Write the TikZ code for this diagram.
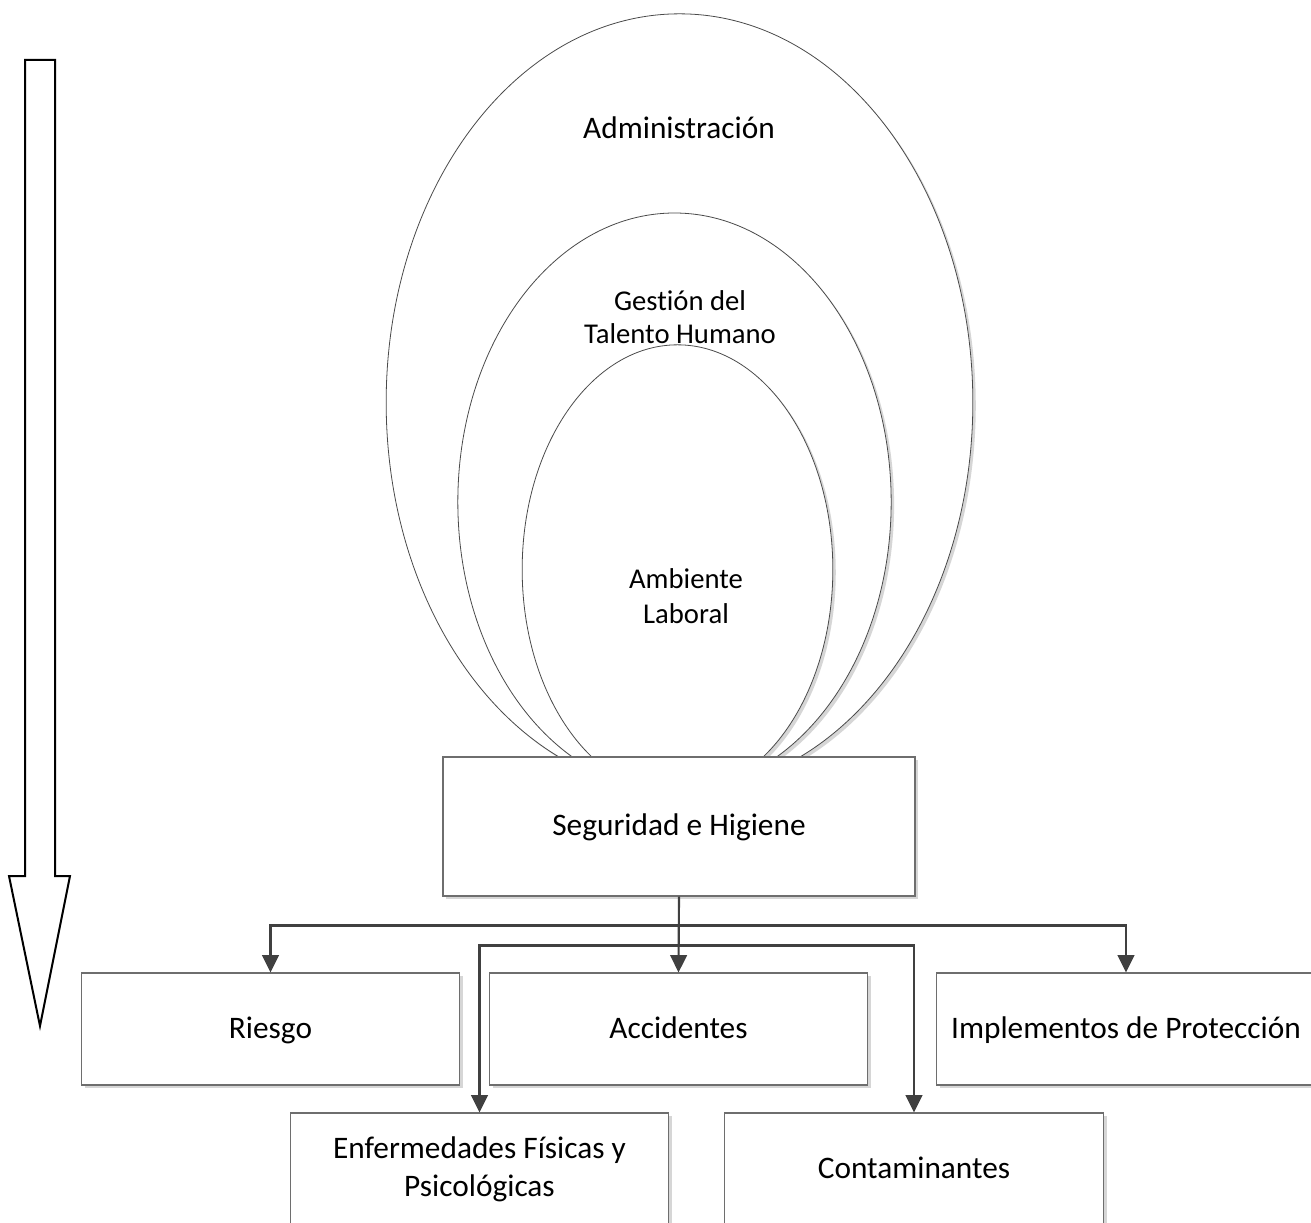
\documentclass[tikz,border=0pt]{standalone}
\usepackage{fontspec}
\setmainfont{Carlito}[Ligatures=NoCommon]
\usetikzlibrary{shapes.geometric,shadows,arrows.meta}
\definecolor{ovalline}{HTML}{4A4A4A}
\definecolor{boxline}{HTML}{6E6E6E}
\definecolor{connline}{HTML}{404040}

\begin{document}
\begin{tikzpicture}[x=0.75pt,y=-0.75pt,
    oval/.style={ellipse,draw=ovalline,line width=0.6pt,fill=white,inner sep=0pt,
      drop shadow={shadow xshift=2.2pt,shadow yshift=-2.2pt,fill=black!16,opacity=1}},
    box/.style={rectangle,draw=boxline,line width=0.8pt,fill=white,inner sep=0pt,align=center,
      minimum width=284pt,minimum height=84pt,font=\fontsize{23.5}{28.5}\selectfont,
      drop shadow={shadow xshift=2.5pt,shadow yshift=-2.5pt,fill=black!16,opacity=1}},
    oneline/.style={text height=18pt,text depth=4pt},
    conn/.style={draw=connline,line width=1.6pt,-{Triangle[length=13pt,width=12.5pt]}}]
    \useasboundingbox (0,0) rectangle (1311,1223);

    \draw[line width=1.5pt,fill=white] (25,60) -- (55,60) -- (55,876) -- (70,876)
      -- (40,1026) -- (9,876) -- (25,876) -- cycle;

    \node[oval,minimum width=440pt,minimum height=583pt] (admin) at (679.5,402.5) {};
    \node[oval,minimum width=325pt,minimum height=433.5pt] (gestion) at (674.5,502) {};
    \node[oval,minimum width=233pt,minimum height=337pt] (ambiente) at (677.5,569.5) {};

    \node[font=\fontsize{23.5}{28.5}\selectfont] (admintxt) at (679,128) {Administración};
    \node[align=center,font=\fontsize{21.5}{25}\selectfont] (gestiontxt) at (680,317) {Gestión del\\Talento Humano};
    \node[align=center,font=\fontsize{21.5}{26}\selectfont] (ambientetxt) at (686,596) {Ambiente\\Laboral};

    \node[box,oneline,minimum width=354pt,minimum height=104.25pt] (seg) at (679,826.5) {Seguridad e Higiene};
    \node[box,oneline] (riesgo) at (270.5,1029) {Riesgo};
    \node[box,oneline] (acc) at (678.5,1029) {Accidentes};
    \node[box,oneline] (impl) at (1126,1029) {Implementos de Protección};
    \node[box] (enf) at (479.5,1169) {Enfermedades Físicas y\\Psicológicas};
    \node[box,oneline] (cont) at (914,1169) {Contaminantes};

    \draw[conn] (seg.south) -- ++(0,29) -| (riesgo.north);
    \draw[conn] (seg.south) -- ++(0,29) -| (impl.north);
    \draw[conn] (seg.south) -- ++(0,49) -| (enf.north);
    \draw[conn] (seg.south) -- ++(0,49) -| (cont.north);
    \draw[conn] (seg.south) -- (acc.north);
\end{tikzpicture}
\end{document}
